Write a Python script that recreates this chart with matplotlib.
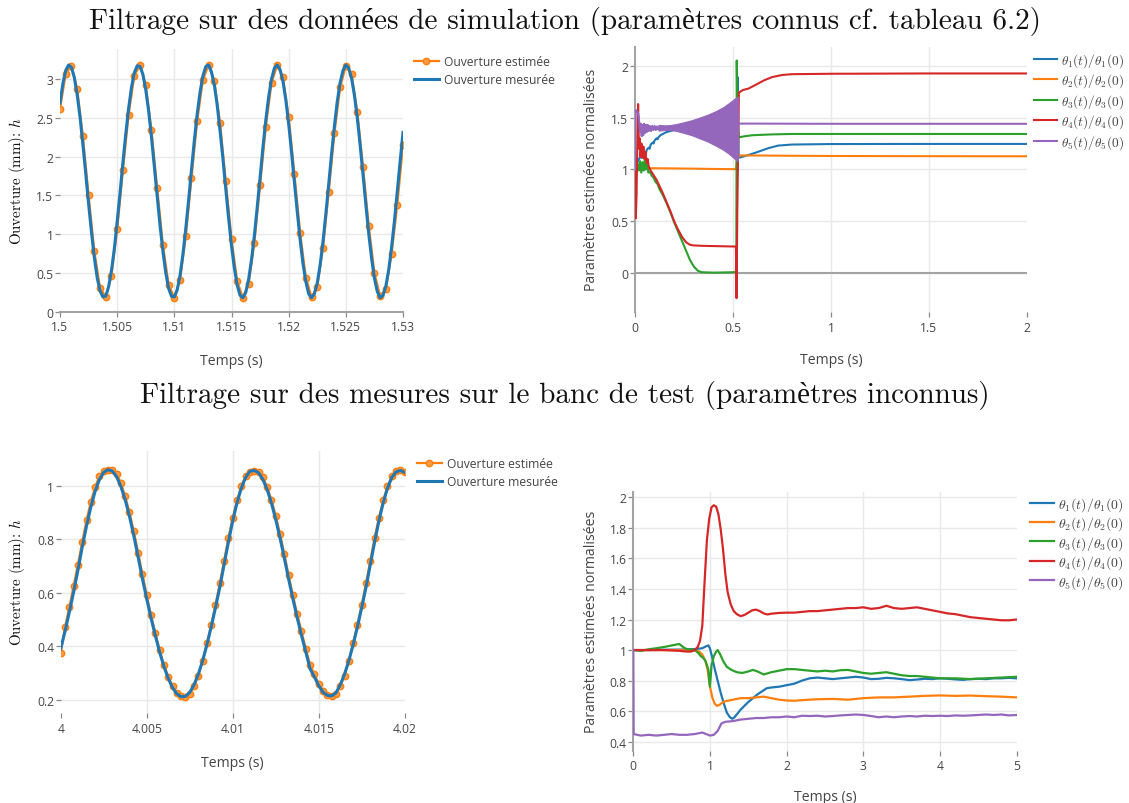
import numpy as np
import matplotlib
matplotlib.use("Agg")
import matplotlib.pyplot as plt

plt.rcParams['mathtext.fontset'] = 'cm'
plt.rcParams['font.family'] = ['Open Sans', 'DejaVu Sans']

# ------------------------------------------------------------------ data
# Panel A : simulation, opening (mm) vs time (s)
simA_t_start, simA_t_end = 1.5, 1.53
simA_measured = [
    2.69, 2.94, 3.11, 3.18, 3.15, 3.02, 2.80, 2.51, 2.16, 1.78,
    1.39, 1.03, 0.70, 0.44, 0.27, 0.19, 0.20, 0.32, 0.53, 0.81,
    1.16, 1.53, 1.92, 2.29, 2.62, 2.89, 3.08, 3.17, 3.16, 3.06,
    2.86, 2.59, 2.25, 1.87, 1.49, 1.11, 0.78, 0.50, 0.30, 0.20,
    0.19, 0.28, 0.47, 0.74, 1.07, 1.44, 1.83, 2.21, 2.55, 2.83,
    3.04, 3.16, 3.18, 3.09, 2.92, 2.66, 2.33, 1.97, 1.58, 1.20,
    0.85, 0.56, 0.34, 0.21, 0.18, 0.25, 0.42, 0.67, 0.98, 1.35,
    1.73, 2.12, 2.47, 2.77, 3.00, 3.14, 3.18, 3.12, 2.97, 2.73,
    2.42, 2.06, 1.67, 1.29, 0.93, 0.62, 0.39, 0.23, 0.18, 0.23,
    0.37, 0.60, 0.90, 1.26, 1.64, 2.03, 2.39, 2.71, 2.95, 3.11,
    3.18, 3.14, 3.01, 2.79, 2.50, 2.15, 1.77, 1.38, 1.01, 0.69,
    0.43, 0.26, 0.18, 0.21, 0.33, 0.54, 0.83, 1.17, 1.55, 1.94,
    2.31]
simA_estimated = [
    2.61, 3.07, 3.17, 2.87, 2.26, 1.50, 0.78, 0.31, 0.19, 0.46,
    1.06, 1.82, 2.54, 3.04, 3.18, 2.92, 2.34, 1.59, 0.86, 0.35,
    0.18, 0.41, 0.97, 1.72, 2.46, 2.99, 3.18, 2.97, 2.43, 1.68,
    0.94, 0.39, 0.18, 0.36, 0.89, 1.63, 2.38, 2.95, 3.18, 3.02,
    2.51, 1.78, 1.02, 0.44, 0.19, 0.32, 0.82, 1.54, 2.30, 2.89,
    3.17, 3.06, 2.58, 1.87, 1.11, 0.50, 0.20, 0.29, 0.74, 1.38,
    2.15]

# Panel B : simulation, normalised parameters
simB_th1_t = [0, 0.01, 0.02, 0.03, 0.035, 0.04, 0.05, 0.055, 0.06, 0.07,
              0.075, 0.08, 0.09, 0.095, 0.1, 0.11, 0.115, 0.12, 0.13, 0.14,
              0.16, 0.2, 0.3, 0.4, 0.5, 0.515, 0.519, 0.524, 0.529, 0.535,
              0.58, 0.62, 0.68, 0.73, 0.8, 1.0, 1.5, 2.0]
simB_th1 = [1.0, 1.06, 1.1, 1.13, 1.11, 1.15, 1.17, 1.15, 1.19, 1.21,
            1.2, 1.24, 1.26, 1.25, 1.28, 1.3, 1.29, 1.31, 1.33, 1.34,
            1.36, 1.38, 1.39, 1.40, 1.40, 1.40, 1.10, 1.89, 1.12, 1.115,
            1.14, 1.165, 1.205, 1.23, 1.24, 1.245, 1.246, 1.246]
simB_th2_t = [0, 0.008, 0.014, 0.02, 0.026, 0.032, 0.04, 0.05, 0.1, 0.2,
              0.3, 0.4, 0.5, 0.515, 0.52, 0.53, 0.6, 0.8, 1.0, 1.5, 2.0]
simB_th2 = [1.0, 1.04, 1.0, 1.05, 1.0, 1.03, 1.01, 1.01, 1.012, 1.01,
            1.008, 1.005, 1.003, 1.003, 1.07, 1.135, 1.135, 1.132, 1.13, 1.128, 1.127]
simB_th3_t = [0, 0.008, 0.014, 0.02, 0.026, 0.032, 0.038, 0.044, 0.05, 0.056,
              0.062, 0.068, 0.075, 0.085, 0.095, 0.105, 0.115, 0.125, 0.14, 0.16,
              0.18, 0.2, 0.22, 0.24, 0.26, 0.28, 0.3, 0.32, 0.34, 0.4,
              0.5, 0.515, 0.517, 0.519, 0.523, 0.53, 0.56, 0.6, 0.7, 0.8,
              1.0, 2.0]
simB_th3 = [1.0, 0.98, 1.05, 0.99, 1.08, 0.97, 1.07, 0.99, 1.1, 1.0,
            1.06, 0.97, 0.98, 0.94, 0.92, 0.88, 0.86, 0.81, 0.76, 0.68,
            0.59, 0.49, 0.40, 0.31, 0.22, 0.13, 0.065, 0.025, 0.01, 0.006,
            0.01, 0.012, 0.3, 2.05, 1.45, 1.31, 1.32, 1.33, 1.338, 1.342,
            1.342, 1.342]
simB_th4_t = [0, 0.004, 0.008, 0.012, 0.016, 0.02, 0.024, 0.028, 0.033, 0.038,
              0.043, 0.048, 0.053, 0.06, 0.065, 0.07, 0.08, 0.09, 0.1, 0.11,
              0.12, 0.13, 0.14, 0.16, 0.18, 0.2, 0.22, 0.24, 0.26, 0.28,
              0.3, 0.35, 0.4, 0.5, 0.515, 0.518, 0.522, 0.53, 0.55, 0.58,
              0.62, 0.66, 0.7, 0.75, 0.8, 1.0, 1.5, 2.0]
simB_th4 = [1.0, 0.53, 0.75, 1.3, 1.63, 1.2, 1.3, 1.12, 1.25, 1.12,
            1.22, 1.1, 1.17, 1.06, 1.1, 1.03, 0.99, 0.96, 0.93, 0.9,
            0.86, 0.82, 0.78, 0.69, 0.6, 0.5, 0.42, 0.35, 0.3, 0.275,
            0.268, 0.264, 0.262, 0.258, 0.258, -0.24, 0.6, 1.74, 1.765, 1.78,
            1.82, 1.86, 1.89, 1.91, 1.918, 1.922, 1.925, 1.925]
simB_th5_t = [0, 0.003, 0.006, 0.01, 0.014, 0.018, 0.022, 0.026, 0.03, 0.034,
              0.038, 0.042, 0.046, 0.05, 0.055, 0.06, 0.065, 0.07, 0.076, 0.082,
              0.088, 0.094, 0.1, 0.106, 0.112, 0.118, 0.124]
simB_th5 = [1.0, 1.55, 1.57, 1.56, 1.55, 1.52, 1.45, 1.36, 1.44, 1.32,
            1.43, 1.33, 1.44, 1.35, 1.43, 1.36, 1.43, 1.37, 1.42, 1.37,
            1.42, 1.38, 1.42, 1.38, 1.415, 1.385, 1.41]
simB_th5_band_t = [0.12, 0.15, 0.18, 0.21, 0.25, 0.29, 0.33, 0.37, 0.41, 0.45, 0.48, 0.51, 0.525]
simB_th5_band_hi = [1.43, 1.425, 1.428, 1.437, 1.455, 1.475, 1.50, 1.527, 1.56, 1.60, 1.64, 1.685, 1.70]
simB_th5_band_lo = [1.375, 1.38, 1.382, 1.372, 1.352, 1.33, 1.30, 1.27, 1.232, 1.19, 1.15, 1.10, 1.08]
simB_th5_end_t = [0.525, 0.53, 0.6, 1.0, 1.5, 2.0]
simB_th5_end = [1.44, 1.442, 1.442, 1.44, 1.44, 1.44]

# Panel C : test bench, opening (mm) vs time (s)
benchC_t_start, benchC_t_end = 4.0, 4.02
benchC_measured = [
    0.39, 0.455, 0.527, 0.602, 0.684, 0.770, 0.849, 0.920, 0.979, 1.023, 1.050, 1.060,
    1.055, 1.034, 0.997, 0.947, 0.885, 0.813, 0.734, 0.652,
    0.577, 0.506, 0.440, 0.378, 0.324, 0.280, 0.245, 0.222, 0.211,
    0.212, 0.227, 0.255, 0.295, 0.345, 0.405, 0.472, 0.544, 0.620,
    0.705, 0.789, 0.868, 0.936, 0.991, 1.031, 1.054,
    1.057, 1.049, 1.024, 0.986, 0.936, 0.874, 0.805, 0.730, 0.651,
    0.577, 0.506, 0.440, 0.378, 0.315, 0.285, 0.252, 0.228, 0.216,
    0.214, 0.225, 0.255, 0.295, 0.345, 0.405, 0.472, 0.544, 0.620,
    0.705, 0.789, 0.868, 0.936, 0.991, 1.031, 1.052, 1.057, 1.050]
benchC_estimated = [
    0.375, 0.47, 0.545, 0.625, 0.705, 0.79, 0.87, 0.94, 0.995, 1.035, 1.055, 1.06,
    1.058, 1.045, 1.01, 0.96, 0.9, 0.83, 0.75, 0.67,
    0.59, 0.515, 0.45, 0.385, 0.33, 0.285, 0.25, 0.225, 0.212,
    0.21, 0.222, 0.25, 0.29, 0.345, 0.41, 0.48, 0.555, 0.635,
    0.72, 0.805, 0.88, 0.945, 0.998, 1.035, 1.052,
    1.055, 1.052, 1.032, 0.995, 0.948, 0.888, 0.82, 0.745, 0.665,
    0.59, 0.52, 0.455, 0.39, 0.33, 0.295, 0.26, 0.232, 0.218,
    0.214, 0.222, 0.25, 0.29, 0.345, 0.41, 0.48, 0.555, 0.635,
    0.72, 0.805, 0.88, 0.945, 0.998, 1.035, 1.055, 1.058, 1.052]

# Panel D : test bench, normalised parameters
benchD_th1_t = [0, 0.2, 0.4, 0.6, 0.8, 0.9, 0.95, 0.98, 1.0, 1.03,
                1.06, 1.1, 1.14, 1.18, 1.22, 1.26, 1.29, 1.32, 1.36, 1.4,
                1.45, 1.5, 1.56, 1.62, 1.68, 1.74, 1.8, 1.9, 2.0, 2.1,
                2.2, 2.3, 2.4, 2.5, 2.6, 2.7, 2.8, 2.9, 3.0, 3.1,
                3.2, 3.3, 3.4, 3.5, 3.6, 3.7, 3.8, 3.9, 4.0, 4.1,
                4.2, 4.3, 4.4, 4.5, 4.6, 4.7, 4.8, 4.9, 5.0]
benchD_th1 = [1.0, 1.0, 1.002, 1.003, 1.006, 1.012, 1.025, 1.03, 1.01, 0.95,
              0.88, 0.8, 0.72, 0.65, 0.59, 0.56, 0.55, 0.56, 0.585, 0.61,
              0.635, 0.66, 0.685, 0.71, 0.73, 0.75, 0.755, 0.76, 0.77, 0.78,
              0.8, 0.815, 0.82, 0.815, 0.81, 0.815, 0.82, 0.825, 0.82, 0.81,
              0.812, 0.818, 0.815, 0.81, 0.803, 0.807, 0.812, 0.81, 0.815, 0.812,
              0.808, 0.805, 0.81, 0.812, 0.81, 0.815, 0.815, 0.818, 0.815]
benchD_th2_t = [0, 0.2, 0.4, 0.6, 0.8, 0.86, 0.9, 0.94, 0.97, 1.0,
                1.03, 1.06, 1.09, 1.12, 1.16, 1.2, 1.3, 1.4, 1.5, 1.6,
                1.7, 1.8, 1.9, 2.0, 2.1, 2.2, 2.4, 2.6, 2.8, 3.0,
                3.2, 3.4, 3.6, 3.8, 4.0, 4.2, 4.4, 4.6, 4.8, 5.0]
benchD_th2 = [1.0, 1.0, 1.0, 1.0, 0.998, 0.99, 0.97, 0.93, 0.87, 0.76,
              0.69, 0.65, 0.635, 0.64, 0.655, 0.665, 0.675, 0.685, 0.685, 0.69,
              0.695, 0.685, 0.675, 0.67, 0.668, 0.672, 0.678, 0.68, 0.675, 0.685,
              0.69, 0.69, 0.695, 0.7, 0.703, 0.7, 0.702, 0.698, 0.695, 0.69]
benchD_th3_t = [0, 0.1, 0.2, 0.3, 0.4, 0.5, 0.55, 0.6, 0.65, 0.7,
                0.75, 0.8, 0.85, 0.88, 0.91, 0.94, 0.96, 0.98, 0.99, 1.0,
                1.02, 1.05, 1.08, 1.1, 1.13, 1.17, 1.22, 1.28, 1.35, 1.42,
                1.5, 1.56, 1.62, 1.7, 1.8, 1.9, 2.0, 2.1, 2.2, 2.3,
                2.4, 2.5, 2.6, 2.7, 2.8, 2.9, 3.0, 3.1, 3.2, 3.3,
                3.4, 3.5, 3.6, 3.7, 3.8, 3.9, 4.0, 4.2, 4.4, 4.6,
                4.8, 5.0]
benchD_th3 = [1.0, 0.995, 1.005, 1.012, 1.02, 1.03, 1.035, 1.04, 1.02, 1.005,
              1.005, 1.0, 0.98, 0.96, 0.95, 0.93, 0.9, 0.87, 0.8, 0.76,
              0.9, 0.96, 0.99, 1.0, 0.975, 0.93, 0.89, 0.87, 0.855, 0.85,
              0.86, 0.87, 0.86, 0.84, 0.855, 0.865, 0.875, 0.875, 0.87, 0.865,
              0.86, 0.865, 0.86, 0.868, 0.87, 0.86, 0.85, 0.845, 0.85, 0.855,
              0.845, 0.835, 0.83, 0.83, 0.825, 0.82, 0.815, 0.815, 0.81, 0.815,
              0.82, 0.825]
benchD_th4_t = [0, 0.2, 0.4, 0.6, 0.7, 0.75, 0.8, 0.84, 0.87, 0.9,
                0.93, 0.96, 0.99, 1.02, 1.05, 1.08, 1.11, 1.14, 1.17, 1.2,
                1.23, 1.27, 1.31, 1.35, 1.4, 1.45, 1.5, 1.55, 1.6, 1.65,
                1.7, 1.75, 1.8, 1.9, 2.0, 2.1, 2.2, 2.3, 2.4, 2.5,
                2.6, 2.7, 2.8, 2.9, 3.0, 3.1, 3.2, 3.3, 3.4, 3.5,
                3.6, 3.7, 3.8, 3.9, 4.0, 4.1, 4.2, 4.3, 4.4, 4.5,
                4.6, 4.7, 4.8, 4.9, 5.0]
benchD_th4 = [1.0, 1.0, 1.0, 0.995, 0.99, 0.99, 1.0, 1.02, 1.06, 1.16,
              1.45, 1.72, 1.86, 1.935, 1.948, 1.94, 1.89, 1.79, 1.66, 1.5,
              1.38, 1.3, 1.255, 1.235, 1.222, 1.23, 1.245, 1.26, 1.265, 1.255,
              1.24, 1.233, 1.238, 1.243, 1.245, 1.245, 1.25, 1.255, 1.255, 1.26,
              1.265, 1.27, 1.275, 1.275, 1.28, 1.27, 1.275, 1.29, 1.275, 1.27,
              1.275, 1.28, 1.27, 1.26, 1.25, 1.24, 1.235, 1.225, 1.215, 1.21,
              1.205, 1.2, 1.195, 1.195, 1.2]
benchD_th5_t = [0, 0.005, 0.05, 0.1, 0.2, 0.3, 0.4, 0.5, 0.6, 0.7,
                0.8, 0.85, 0.9, 0.95, 1.0, 1.05, 1.1, 1.15, 1.2, 1.3,
                1.4, 1.5, 1.6, 1.7, 1.8, 1.9, 2.0, 2.1, 2.2, 2.3,
                2.4, 2.5, 2.6, 2.7, 2.8, 2.9, 3.0, 3.1, 3.2, 3.3,
                3.4, 3.5, 3.6, 3.7, 3.8, 3.9, 4.0, 4.1, 4.2, 4.3,
                4.4, 4.5, 4.6, 4.7, 4.8, 4.9, 5.0]
benchD_th5 = [1.0, 0.45, 0.445, 0.44, 0.445, 0.44, 0.445, 0.45, 0.445, 0.445,
              0.45, 0.455, 0.46, 0.45, 0.44, 0.445, 0.47, 0.52, 0.53, 0.535,
              0.545, 0.55, 0.555, 0.555, 0.56, 0.56, 0.565, 0.56, 0.57, 0.568,
              0.57, 0.565, 0.568, 0.572, 0.575, 0.578, 0.575, 0.568, 0.56, 0.565,
              0.56, 0.565, 0.568, 0.565, 0.57, 0.568, 0.57, 0.568, 0.572, 0.57,
              0.572, 0.575, 0.578, 0.575, 0.578, 0.572, 0.575]

# labels
title_top = "Filtrage sur des données de simulation (paramètres connus cf. tableau 6.2)"
title_bottom = "Filtrage sur des mesures sur le banc de test (paramètres inconnus)"
xlabel_all = "Temps (s)"
ylabel_open = r"Ouverture (mm): $h$"
ylabel_par = "Paramètres estimées normalisées"
legend_open = ["Ouverture estimée", "Ouverture mesurée"]
legend_par = [r"$\theta_1(t)/\theta_1(0)$", r"$\theta_2(t)/\theta_2(0)$",
              r"$\theta_3(t)/\theta_3(0)$", r"$\theta_4(t)/\theta_4(0)$",
              r"$\theta_5(t)/\theta_5(0)$"]

simA_xticks = [1.5, 1.505, 1.51, 1.515, 1.52, 1.525, 1.53]
simA_xticklabels = ["1.5", "1.505", "1.51", "1.515", "1.52", "1.525", "1.53"]
simA_yticks = [0, 0.5, 1, 1.5, 2, 2.5, 3]
simA_yticklabels = ["0", "0.5", "1", "1.5", "2", "2.5", "3"]
simB_xticks = [0, 0.5, 1, 1.5, 2]
simB_xticklabels = ["0", "0.5", "1", "1.5", "2"]
simB_yticks = [0, 0.5, 1, 1.5, 2]
simB_yticklabels = ["0", "0.5", "1", "1.5", "2"]
benchC_xticks = [4, 4.005, 4.01, 4.015, 4.02]
benchC_xticklabels = ["4", "4.005", "4.01", "4.015", "4.02"]
benchC_yticks = [0.2, 0.4, 0.6, 0.8, 1]
benchC_yticklabels = ["0.2", "0.4", "0.6", "0.8", "1"]
benchD_xticks = [0, 1, 2, 3, 4, 5]
benchD_xticklabels = ["0", "1", "2", "3", "4", "5"]
benchD_yticks = [0.4, 0.6, 0.8, 1, 1.2, 1.4, 1.6, 1.8, 2]
benchD_yticklabels = ["0.4", "0.6", "0.8", "1", "1.2", "1.4", "1.6", "1.8", "2"]

# ------------------------------------------------------------------ style
C_BLUE, C_ORANGE, C_GREEN, C_RED, C_PURPLE = '#1f77b4', '#ff7f0e', '#2ca02c', '#d62728', '#9467bd'
PAR_COLORS = [C_BLUE, C_ORANGE, C_GREEN, C_RED, C_PURPLE]
TXT = '#444444'
SERIF = ['cmr10', 'Liberation Serif']
ZERO = '#a3a3a3'

W, H = 1129, 804
fig = plt.figure(figsize=(W / 100, H / 100), dpi=100)


def rect(l, t, r, b):
    return [l / W, 1 - b / H, (r - l) / W, (b - t) / H]


def style(ax, xlim, ylim, xt, xtl, yt, ytl):
    ax.set_xlim(*xlim)
    ax.set_ylim(*ylim)
    ax.set_xticks(xt, xtl)
    ax.set_yticks(yt, ytl)
    for s in ax.spines.values():
        s.set_visible(False)
    ax.set_axisbelow(True)
    ax.grid(True, color='#e9e9e9', lw=1.0)
    ax.tick_params(length=3.5, width=0.9, color='#8a8a8a', labelcolor=TXT, labelsize=8.7)
    ax.tick_params(axis='y', pad=1.2)
    ax.tick_params(axis='x', pad=2.8)
    for tick, loc in zip(ax.xaxis.get_major_ticks(), xt):
        if abs(loc - xlim[0]) < 1e-9 or abs(loc - xlim[1]) < 1e-9:
            tick.gridline.set_visible(False)
    for tick, loc in zip(ax.yaxis.get_major_ticks(), yt):
        if abs(loc - ylim[0]) < 1e-9 or abs(loc - ylim[1]) < 1e-9:
            tick.gridline.set_visible(False)


def labels(ax, xpos, ylabel, ypos, serif):
    ax.set_xlabel(xlabel_all, fontsize=10.1, color=TXT)
    ax.xaxis.set_label_coords(*xpos)
    ax.xaxis.label.set_va('center')
    if serif:
        ax.set_ylabel(ylabel, fontsize=10.8, color='#111111', family=SERIF)
    else:
        ax.set_ylabel(ylabel, fontsize=10.1, color=TXT)
    ax.yaxis.set_label_coords(*ypos)
    ax.yaxis.label.set_va('center')


def legend(ax, handles, texts, x_px, top_px, fs, hl, htp, ls):
    leg = ax.legend(handles, texts, loc='upper left',
                    bbox_to_anchor=(x_px / W, 1 - top_px / H), bbox_transform=fig.transFigure,
                    frameon=False, borderpad=0, borderaxespad=0, handlelength=hl,
                    handletextpad=htp, labelspacing=ls, fontsize=fs, numpoints=1)
    for t in leg.get_texts():
        t.set_color(TXT)
    return leg


# ------------------------------------------------------------------ titles
fig.text(565 / W, 1 - 22 / H, title_top, ha='center', va='center', fontsize=21,
         family=SERIF, color='#111111')
fig.text(565 / W, 1 - 395 / H, title_bottom, ha='center', va='center', fontsize=21,
         family=SERIF, color='#111111')

# ------------------------------------------------------------------ panel A
axA = fig.add_axes(rect(60, 50, 403, 312.7))
tA_meas = np.linspace(simA_t_start, simA_t_end, len(simA_measured))
tA_est = np.linspace(simA_t_start, simA_t_end, len(simA_estimated))
hA1, = axA.plot(tA_est, simA_estimated, color=C_ORANGE, lw=1.6, marker='o', ms=4.6,
                mfc='#ff9a42', mec=C_ORANGE, mew=1.0, zorder=3)
hA2, = axA.plot(tA_meas, simA_measured, color=C_BLUE, lw=2.2, zorder=4)
style(axA, (1.5, 1.53), (0, 3.386), simA_xticks, simA_xticklabels, simA_yticks, simA_yticklabels)
axA.axhline(0, color=ZERO, lw=1.5, zorder=2, clip_on=False)
labels(axA, (0.5, -0.184), ylabel_open, (-0.124, 0.5), True)
legend(axA, [hA1, hA2], legend_open, 414, 56, 8.7, 2.05, 0.42, 0.42)

# ------------------------------------------------------------------ panel B
axB = fig.add_axes(rect(635, 48.3, 1027, 313.3))
series_B = [(simB_th1_t, simB_th1), (simB_th2_t, simB_th2), (simB_th3_t, simB_th3),
            (simB_th4_t, simB_th4)]
handles_B = []
for (tt, vv), col in zip(series_B, PAR_COLORS[:4]):
    h, = axB.plot(tt, vv, color=col, lw=1.5, zorder=3)
    handles_B.append(h)
h5, = axB.plot(simB_th5_t, simB_th5, color=C_PURPLE, lw=1.5, zorder=3)
axB.fill_between(simB_th5_band_t, simB_th5_band_lo, simB_th5_band_hi, color=C_PURPLE,
                 lw=0.8, edgecolor=C_PURPLE, zorder=3)
axB.plot(simB_th5_end_t, simB_th5_end, color=C_PURPLE, lw=1.5, zorder=3)
handles_B.append(h5)
style(axB, (0, 2), (-0.376, 2.177), simB_xticks, simB_xticklabels, simB_yticks, simB_yticklabels)
axB.axhline(0, color=ZERO, lw=1.5, zorder=2)
axB.axvline(0, color=ZERO, lw=1.5, zorder=2, clip_on=False)
labels(axB, (0.5, -0.18), ylabel_par, (-0.110, 0.503), False)
legend(axB, handles_B, legend_par, 1034, 52, 9.6, 1.75, 0.25, 0.2)

# ------------------------------------------------------------------ panel C
axC = fig.add_axes(rect(60.7, 451.7, 404.7, 714))
tC_meas = np.linspace(benchC_t_start, benchC_t_end, len(benchC_measured))
tC_est = np.linspace(benchC_t_start, benchC_t_end, len(benchC_estimated))
hC1, = axC.plot(tC_est, benchC_estimated, color=C_ORANGE, lw=1.6, marker='o', ms=4.6,
                mfc='#ff9a42', mec=C_ORANGE, mew=1.0, zorder=3)
hC2, = axC.plot(tC_meas, benchC_measured, color=C_BLUE, lw=2.2, zorder=4)
style(axC, (4.0, 4.02), (0.150, 1.131), benchC_xticks, benchC_xticklabels,
      benchC_yticks, benchC_yticklabels)
labels(axC, (0.498, -0.187), ylabel_open, (-0.1256, 0.504), True)
legend(axC, [hC1, hC2], legend_open, 417, 458, 8.7, 2.05, 0.42, 0.42)

# ------------------------------------------------------------------ panel D
axD = fig.add_axes(rect(633.3, 492.7, 1016.7, 751.7))
series_D = [(benchD_th1_t, benchD_th1), (benchD_th2_t, benchD_th2), (benchD_th3_t, benchD_th3),
            (benchD_th4_t, benchD_th4), (benchD_th5_t, benchD_th5)]
handles_D = []
for (tt, vv), col in zip(series_D, PAR_COLORS):
    h, = axD.plot(tt, vv, color=col, lw=1.6, zorder=3)
    handles_D.append(h)
style(axD, (0, 5), (0.341, 2.037), benchD_xticks, benchD_xticklabels,
      benchD_yticks, benchD_yticklabels)
axD.axvline(0, color=ZERO, lw=1.5, zorder=2, clip_on=False)
labels(axD, (0.5, -0.175), ylabel_par, (-0.109, 0.502), False)
legend(axD, handles_D, legend_par, 1030, 496, 10, 1.7, 0.28, 0.12)

fig.savefig("out.png", dpi=100)
